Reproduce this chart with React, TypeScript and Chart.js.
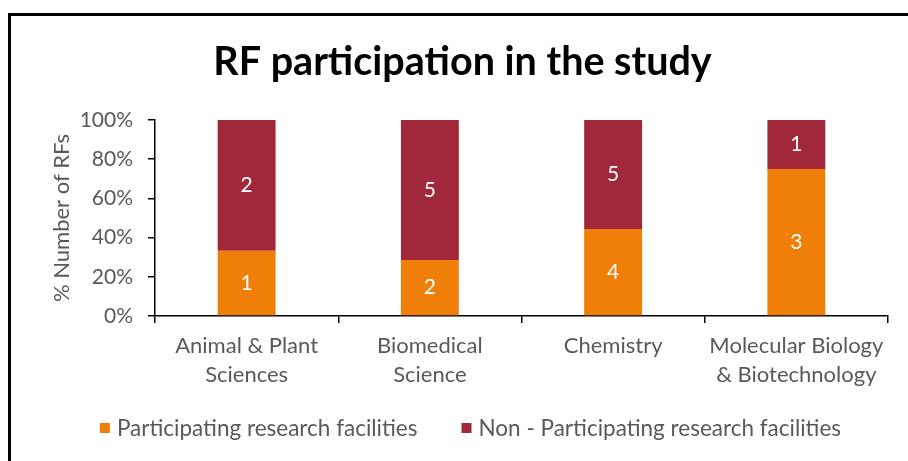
import React, { useEffect, useRef } from "react";
import { Chart, registerables } from "chart.js";

Chart.register(...registerables);

const categories: (string | string[])[] = [
  ["Animal & Plant", "Sciences"],
  ["Biomedical", "Science"],
  "Chemistry",
  ["Molecular Biology", "& Biotechnology"],
];
const participating = [1, 2, 4, 3];
const nonParticipating = [2, 5, 5, 1];
const seriesNames = ["Participating research facilities", "Non - Participating research facilities"];
const yTicks = [0, 20, 40, 60, 80, 100];

const ORANGE = "#F07F09";
const RED = "#A1283A";
const GRAY = "#595959";
const FONT = "Lato, 'Noto Sans', sans-serif";

const pct = (a: number[], b: number[]) => a.map((v, i) => (v / (v + b[i])) * 100);

export default function App() {
  const ref = useRef<HTMLCanvasElement>(null);
  useEffect(() => {
    if (!ref.current) return;
    const counts = [participating, nonParticipating];
    const labelPlugin = {
      id: "countLabels",
      afterDatasetsDraw(chart: any) {
        const ctx = chart.ctx;
        ctx.save();
        ctx.fillStyle = "#FFFFFF";
        ctx.font = `21px ${FONT}`;
        ctx.textAlign = "center";
        ctx.textBaseline = "middle";
        chart.data.datasets.forEach((_: any, di: number) => {
          const meta = chart.getDatasetMeta(di);
          meta.data.forEach((el: any, i: number) => {
            ctx.fillText(String(counts[di][i]), el.x, (el.y + el.base) / 2);
          });
        });
        ctx.restore();
      },
    };
    const legendPlugin = {
      id: "bottomLegend",
      afterDraw(chart: any) {
        const ctx = chart.ctx;
        ctx.save();
        ctx.font = `22.5px ${FONT}`;
        ctx.textBaseline = "middle";
        const box = 10;
        const gapText = 7;
        const gapItem = 44;
        const ds = chart.data.datasets;
        const widths = ds.map((d: any) => box + gapText + ctx.measureText(d.label).width);
        const total = widths.reduce((a: number, b: number) => a + b, 0) + gapItem * (ds.length - 1);
        const centerX = 470.5;
        const cy = chart.chartArea.bottom + 112;
        let x = centerX - total / 2;
        ds.forEach((d: any, i: number) => {
          ctx.fillStyle = d.backgroundColor;
          ctx.fillRect(x, cy - box / 2, box, box);
          ctx.fillStyle = GRAY;
          ctx.fillText(d.label, x + box + gapText, cy + 1);
          x += widths[i] + gapItem;
        });
        ctx.restore();
      },
    };
    const chart = new Chart(ref.current, {
      type: "bar",
      data: {
        labels: categories,
        datasets: [
          {
            label: seriesNames[0],
            data: pct(participating, nonParticipating),
            backgroundColor: ORANGE,
            barPercentage: 0.316,
            categoryPercentage: 1,
          },
          {
            label: seriesNames[1],
            data: pct(nonParticipating, participating),
            backgroundColor: RED,
            barPercentage: 0.316,
            categoryPercentage: 1,
          },
        ],
      },
      options: {
        responsive: false,
        animation: false,
        layout: { padding: { left: 37, right: 20, top: 0, bottom: 55 } },
        plugins: {
          tooltip: { enabled: false },
          title: {
            display: true,
            text: "RF participation in the study",
            color: "#000000",
            font: { family: FONT, size: 39.5, weight: "bold", lineHeight: 1.2 },
            padding: { top: 39, bottom: 33.6 },
          },
          legend: { display: false },
        },
        scales: {
          x: {
            stacked: true,
            border: { color: "#000000", width: 1.5 },
            grid: {
              display: true,
              drawOnChartArea: false,
              drawTicks: true,
              tickLength: 7,
              color: "#000000",
              lineWidth: 1.5,
              offset: true,
            },
            ticks: {
              color: GRAY,
              font: { family: FONT, size: 22, lineHeight: 1.32 },
              padding: 8,
              maxRotation: 0,
            },
            afterFit: (s: any) => {
              s.height = 90;
            },
          },
          y: {
            stacked: true,
            min: 0,
            max: 100,
            afterBuildTicks: (s: any) => {
              s.ticks = yTicks.map((v) => ({ value: v }));
            },
            border: { color: "#000000", width: 1.5 },
            grid: {
              display: true,
              drawOnChartArea: false,
              drawTicks: true,
              tickLength: 7,
              color: "#000000",
              lineWidth: 1.5,
            },
            ticks: {
              color: GRAY,
              font: { family: FONT, size: 21 },
              padding: 15,
              callback: (v: any) => `${v}%`,
            },
            title: {
              display: true,
              text: "% Number of RFs",
              color: GRAY,
              font: { family: FONT, size: 22, lineHeight: 1.2 },
              padding: { top: 12, bottom: 0 },
            },
            afterFit: (s: any) => {
              s.width = 118;
            },
          },
        },
      },
      plugins: [labelPlugin, legendPlugin],
    });
    return () => chart.destroy();
  }, []);
  return (
    <div style={{ position: "fixed", left: 0, top: 0, width: 908, height: 461, background: "#fff", overflow: "hidden" }}>
      <div
        style={{
          position: "absolute",
          left: 8,
          top: 13,
          width: 920,
          height: 470,
          borderTop: "3px solid #000",
          borderLeft: "3px solid #000",
          boxSizing: "border-box",
        }}
      />
      <canvas ref={ref} width={908} height={461} style={{ position: "absolute", left: 0, top: 0 }} />
    </div>
  );
}
